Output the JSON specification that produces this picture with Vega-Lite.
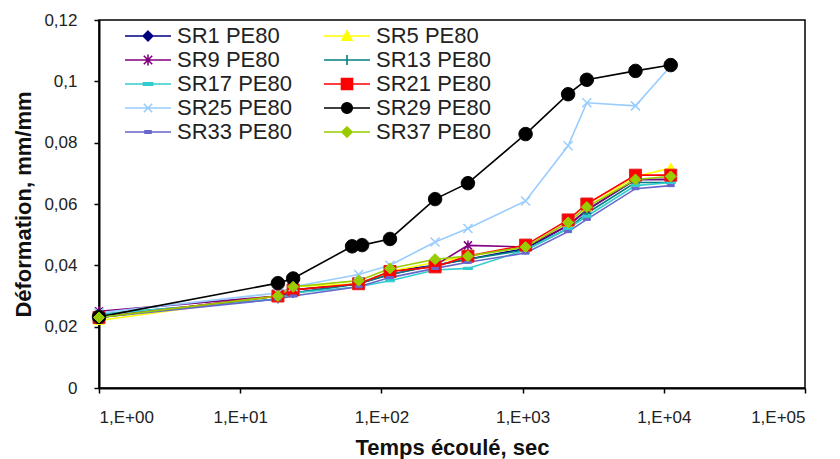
{
  "$schema": "https://vega.github.io/schema/vega-lite/v6.json",
  "width": 706,
  "height": 368,
  "autosize": {"type": "none"},
  "padding": {"left": 99, "top": 20, "right": 35, "bottom": 71},
  "background": "white",
  "config": {
    "font": "Liberation Sans",
    "view": {"stroke": "black", "strokeWidth": 1.5},
    "axis": {"grid": false, "domainColor": "black", "domainWidth": 2, "tickColor": "black", "tickWidth": 1.5, "tickSize": 5, "labelFont": "Liberation Sans", "labelFontSize": 17, "labelColor": "#222", "titleFont": "Liberation Sans", "titleFontWeight": "bold", "titleFontSize": 22, "titleColor": "#111"},
    "legend": {"symbolSize": 400, "symbolOffset": 12, "symbolStrokeWidth": 1.6, "symbolOpacity": 1, "labelFont": "Liberation Sans", "labelFontSize": 22, "labelColor": "#222", "labelOffset": 18, "labelLimit": 300, "columnPadding": 28, "rowPadding": 2, "padding": 0}
  },
  "data": {"values": [
    {"s":"SR1 PE80","t":1,"v":0.023},{"s":"SR1 PE80","t":18.5,"v":0.030},{"s":"SR1 PE80","t":23.7,"v":0.032},{"s":"SR1 PE80","t":69,"v":0.034},{"s":"SR1 PE80","t":115,"v":0.038},{"s":"SR1 PE80","t":240,"v":0.040},{"s":"SR1 PE80","t":410,"v":0.042},{"s":"SR1 PE80","t":1050,"v":0.0455},{"s":"SR1 PE80","t":2100,"v":0.053},{"s":"SR1 PE80","t":2850,"v":0.058},{"s":"SR1 PE80","t":6300,"v":0.068},{"s":"SR1 PE80","t":11200,"v":0.068},
    {"s":"SR5 PE80","t":1,"v":0.022},{"s":"SR5 PE80","t":18.5,"v":0.030},{"s":"SR5 PE80","t":23.7,"v":0.033},{"s":"SR5 PE80","t":69,"v":0.034},{"s":"SR5 PE80","t":115,"v":0.038},{"s":"SR5 PE80","t":240,"v":0.041},{"s":"SR5 PE80","t":410,"v":0.043},{"s":"SR5 PE80","t":1050,"v":0.046},{"s":"SR5 PE80","t":2100,"v":0.054},{"s":"SR5 PE80","t":2850,"v":0.059},{"s":"SR5 PE80","t":6300,"v":0.069},{"s":"SR5 PE80","t":11200,"v":0.0717},
    {"s":"SR9 PE80","t":1,"v":0.025},{"s":"SR9 PE80","t":18.5,"v":0.030},{"s":"SR9 PE80","t":23.7,"v":0.031},{"s":"SR9 PE80","t":69,"v":0.034},{"s":"SR9 PE80","t":115,"v":0.037},{"s":"SR9 PE80","t":240,"v":0.040},{"s":"SR9 PE80","t":410,"v":0.0465},{"s":"SR9 PE80","t":1050,"v":0.046},{"s":"SR9 PE80","t":2100,"v":0.053},{"s":"SR9 PE80","t":2850,"v":0.058},{"s":"SR9 PE80","t":6300,"v":0.068},{"s":"SR9 PE80","t":11200,"v":0.068},
    {"s":"SR13 PE80","t":1,"v":0.024},{"s":"SR13 PE80","t":18.5,"v":0.029},{"s":"SR13 PE80","t":23.7,"v":0.031},{"s":"SR13 PE80","t":69,"v":0.034},{"s":"SR13 PE80","t":115,"v":0.037},{"s":"SR13 PE80","t":240,"v":0.040},{"s":"SR13 PE80","t":410,"v":0.042},{"s":"SR13 PE80","t":1050,"v":0.045},{"s":"SR13 PE80","t":2100,"v":0.052},{"s":"SR13 PE80","t":2850,"v":0.057},{"s":"SR13 PE80","t":6300,"v":0.067},{"s":"SR13 PE80","t":11200,"v":0.067},
    {"s":"SR17 PE80","t":1,"v":0.024},{"s":"SR17 PE80","t":18.5,"v":0.029},{"s":"SR17 PE80","t":23.7,"v":0.031},{"s":"SR17 PE80","t":69,"v":0.033},{"s":"SR17 PE80","t":115,"v":0.035},{"s":"SR17 PE80","t":240,"v":0.0385},{"s":"SR17 PE80","t":410,"v":0.039},{"s":"SR17 PE80","t":1050,"v":0.045},{"s":"SR17 PE80","t":2100,"v":0.052},{"s":"SR17 PE80","t":2850,"v":0.056},{"s":"SR17 PE80","t":6300,"v":0.066},{"s":"SR17 PE80","t":11200,"v":0.067},
    {"s":"SR21 PE80","t":1,"v":0.023},{"s":"SR21 PE80","t":18.5,"v":0.030},{"s":"SR21 PE80","t":23.7,"v":0.032},{"s":"SR21 PE80","t":69,"v":0.034},{"s":"SR21 PE80","t":115,"v":0.038},{"s":"SR21 PE80","t":240,"v":0.0395},{"s":"SR21 PE80","t":410,"v":0.043},{"s":"SR21 PE80","t":1050,"v":0.0466},{"s":"SR21 PE80","t":2100,"v":0.0548},{"s":"SR21 PE80","t":2850,"v":0.060},{"s":"SR21 PE80","t":6300,"v":0.0694},{"s":"SR21 PE80","t":11200,"v":0.0694},
    {"s":"SR25 PE80","t":1,"v":0.0245},{"s":"SR25 PE80","t":18.5,"v":0.031},{"s":"SR25 PE80","t":23.7,"v":0.033},{"s":"SR25 PE80","t":69,"v":0.037},{"s":"SR25 PE80","t":115,"v":0.040},{"s":"SR25 PE80","t":240,"v":0.0476},{"s":"SR25 PE80","t":410,"v":0.052},{"s":"SR25 PE80","t":1050,"v":0.061},{"s":"SR25 PE80","t":2100,"v":0.079},{"s":"SR25 PE80","t":2850,"v":0.093},{"s":"SR25 PE80","t":6300,"v":0.092},{"s":"SR25 PE80","t":11200,"v":0.105},
    {"s":"SR29 PE80","t":1,"v":0.0232},{"s":"SR29 PE80","t":18.5,"v":0.0342},{"s":"SR29 PE80","t":23.7,"v":0.0357},{"s":"SR29 PE80","t":62,"v":0.0462},{"s":"SR29 PE80","t":73,"v":0.0466},{"s":"SR29 PE80","t":115,"v":0.0486},{"s":"SR29 PE80","t":240,"v":0.0616},{"s":"SR29 PE80","t":410,"v":0.0668},{"s":"SR29 PE80","t":1050,"v":0.0828},{"s":"SR29 PE80","t":2100,"v":0.0958},{"s":"SR29 PE80","t":2850,"v":0.1005},{"s":"SR29 PE80","t":6300,"v":0.1034},{"s":"SR29 PE80","t":11200,"v":0.1053},
    {"s":"SR33 PE80","t":1,"v":0.023},{"s":"SR33 PE80","t":18.5,"v":0.029},{"s":"SR33 PE80","t":23.7,"v":0.030},{"s":"SR33 PE80","t":69,"v":0.033},{"s":"SR33 PE80","t":115,"v":0.036},{"s":"SR33 PE80","t":240,"v":0.039},{"s":"SR33 PE80","t":410,"v":0.041},{"s":"SR33 PE80","t":1050,"v":0.044},{"s":"SR33 PE80","t":2100,"v":0.051},{"s":"SR33 PE80","t":2850,"v":0.055},{"s":"SR33 PE80","t":6300,"v":0.065},{"s":"SR33 PE80","t":11200,"v":0.066},
    {"s":"SR37 PE80","t":1,"v":0.023},{"s":"SR37 PE80","t":18.5,"v":0.030},{"s":"SR37 PE80","t":23.7,"v":0.033},{"s":"SR37 PE80","t":69,"v":0.035},{"s":"SR37 PE80","t":115,"v":0.039},{"s":"SR37 PE80","t":240,"v":0.042},{"s":"SR37 PE80","t":410,"v":0.043},{"s":"SR37 PE80","t":1050,"v":0.046},{"s":"SR37 PE80","t":2100,"v":0.054},{"s":"SR37 PE80","t":2850,"v":0.059},{"s":"SR37 PE80","t":6300,"v":0.068},{"s":"SR37 PE80","t":11200,"v":0.069}
  ]},
  "encoding": {
    "x": {"field": "t", "type": "quantitative", "scale": {"type": "log", "domain": [1, 100000], "nice": false}, "axis": {"title": "Temps écoulé, sec", "values": [1, 10, 100, 1000, 10000, 100000], "labelExpr": "'1,E+0' + round(log(datum.value)/LN10)", "labelPadding": 16, "titlePadding": 12}},
    "y": {"field": "v", "type": "quantitative", "scale": {"domain": [0, 0.12], "nice": false}, "axis": {"title": "Déformation, mm/mm", "values": [0, 0.02, 0.04, 0.06, 0.08, 0.1, 0.12], "labelExpr": "replace(format(datum.value, '.2~f'), '.', ',')", "labelPadding": 17, "titlePadding": 8}}
  },
  "layer": [
    {
      "mark": {"type": "line", "strokeWidth": 1.6},
      "encoding": {
        "detail": {"field": "s"},
        "stroke": {"field": "s", "type": "nominal", "scale": {"domain": ["SR1 PE80","SR5 PE80","SR9 PE80","SR13 PE80","SR17 PE80","SR21 PE80","SR25 PE80","SR29 PE80","SR33 PE80","SR37 PE80"], "range": ["#000080","#FFFF00","#800080","#008080","#33CCCC","#FF0000","#99CCFF","#000000","#6666CC","#99CC00"]}, "legend": {"title": null, "orient": "none", "legendX": 26, "legendY": 5, "columns": 2, "direction": "horizontal"}}
      }
    },
    {"transform": [{"filter": {"field": "s", "equal": "SR1 PE80"}}], "mark": {"type": "point", "shape": "M0,-1L1,0L0,1L-1,0Z", "size": 81, "filled": true, "fill": "#000080", "stroke": "#000080", "strokeWidth": 1, "opacity": 1}},
    {"transform": [{"filter": {"field": "s", "equal": "SR5 PE80"}}], "mark": {"type": "point", "shape": "M0,-1L1,0.8L-1,0.8Z", "size": 100, "filled": true, "fill": "#FFFF00", "stroke": "#FFFF00", "strokeWidth": 1, "opacity": 1}},
    {"transform": [{"filter": {"field": "s", "equal": "SR9 PE80"}}], "mark": {"type": "point", "shape": "M-0.8,-0.8L0.8,0.8M-0.8,0.8L0.8,-0.8M0,-1V1", "size": 100, "filled": false, "stroke": "#800080", "strokeWidth": 1.5, "opacity": 1}},
    {"transform": [{"filter": {"field": "s", "equal": "SR13 PE80"}}], "mark": {"type": "point", "shape": "M-1,0H1M0,-1V1", "size": 81, "filled": false, "stroke": "#008080", "strokeWidth": 1.5, "opacity": 1}},
    {"transform": [{"filter": {"field": "s", "equal": "SR17 PE80"}}], "mark": {"type": "point", "shape": "M-1,-0.25H1V0.25H-1Z", "size": 81, "filled": true, "fill": "#33CCCC", "stroke": "#33CCCC", "strokeWidth": 1, "opacity": 1}},
    {"transform": [{"filter": {"field": "s", "equal": "SR21 PE80"}}], "mark": {"type": "point", "shape": "square", "size": 144, "filled": true, "fill": "#FF0000", "stroke": "#E02020", "strokeWidth": 1, "opacity": 1}},
    {"transform": [{"filter": {"field": "s", "equal": "SR25 PE80"}}], "mark": {"type": "point", "shape": "M-1,-1L1,1M-1,1L1,-1", "size": 81, "filled": false, "stroke": "#99CCFF", "strokeWidth": 1.5, "opacity": 1}},
    {"transform": [{"filter": {"field": "s", "equal": "SR29 PE80"}}], "mark": {"type": "point", "shape": "M1,0A1,1,0,1,1,-1,0A1,1,0,1,1,1,0Z", "size": 180, "filled": true, "fill": "#000000", "stroke": "#000000", "strokeWidth": 1, "opacity": 1}},
    {"transform": [{"filter": {"field": "s", "equal": "SR33 PE80"}}], "mark": {"type": "point", "shape": "M-1,-0.3H1V0.3H-1Z", "size": 49, "filled": true, "fill": "#6666CC", "stroke": "#6666CC", "strokeWidth": 1, "opacity": 1}},
    {"transform": [{"filter": {"field": "s", "equal": "SR37 PE80"}}], "mark": {"type": "point", "shape": "M0,-1L1,0L0,1L-1,0Z", "size": 121, "filled": true, "fill": "#99CC00", "stroke": "#99CC00", "strokeWidth": 1, "opacity": 1}},
    {
      "mark": {"type": "point", "filled": true, "opacity": 0},
      "encoding": {
        "fill": {"field": "s", "type": "nominal", "scale": {"domain": ["SR1 PE80","SR5 PE80","SR9 PE80","SR13 PE80","SR17 PE80","SR21 PE80","SR25 PE80","SR29 PE80","SR33 PE80","SR37 PE80"], "range": ["#000080","#FFFF00","#800080","#008080","#33CCCC","#FF0000","#99CCFF","#000000","#6666CC","#99CC00"]}, "legend": {"title": null, "orient": "none", "legendX": 26, "legendY": 5, "columns": 2, "direction": "horizontal"}},
        "stroke": {"field": "s", "type": "nominal", "legend": {"title": null, "orient": "none", "legendX": 26, "legendY": 5, "columns": 2, "direction": "horizontal"}},
        "shape": {"field": "s", "type": "nominal", "scale": {"domain": ["SR1 PE80","SR5 PE80","SR9 PE80","SR13 PE80","SR17 PE80","SR21 PE80","SR25 PE80","SR29 PE80","SR33 PE80","SR37 PE80"], "range": ["M-2.3,0H2.3M0,-0.48L0.48,0L0,0.48L-0.48,0Z","M-2.3,0H2.3M0,-0.5L0.5,0.42L-0.5,0.42Z","M-2.3,0H2.3M-0.42,-0.42L0.42,0.42M-0.42,0.42L0.42,-0.42M0,-0.55V0.55","M-2.3,0H2.3M0,-0.5V0.5","M-2.3,0H2.3M-0.46,-0.12H0.46V0.12H-0.46Z","M-2.3,0H2.3M-0.55,-0.55H0.55V0.55H-0.55Z","M-2.3,0H2.3M-0.42,-0.42L0.42,0.42M-0.42,0.42L0.42,-0.42","M-2.3,0H2.3M0.53,0A0.53,0.53,0,1,1,-0.53,0A0.53,0.53,0,1,1,0.53,0Z","M-2.3,0H2.3M-0.3,-0.12H0.3V0.12H-0.3Z","M-2.3,0H2.3M0,-0.5L0.5,0L0,0.5L-0.5,0Z"]}, "legend": {"title": null, "orient": "none", "legendX": 26, "legendY": 5, "columns": 2, "direction": "horizontal"}}
      }
    }
  ]
}
